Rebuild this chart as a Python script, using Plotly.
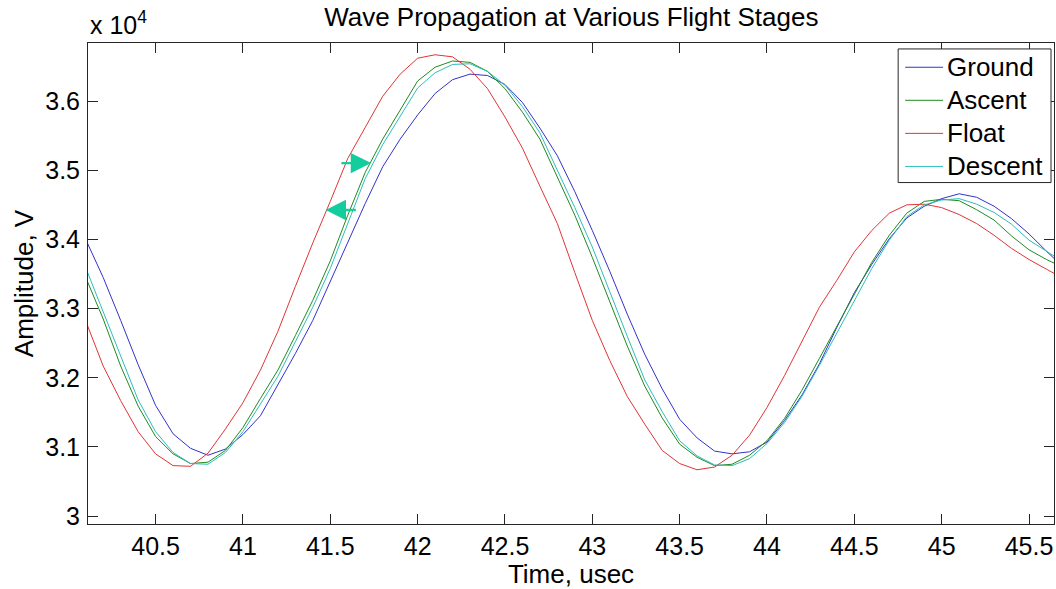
import plotly.graph_objects as go

# Sample times (microseconds), one sample every 0.1 us
time_us = [40.1, 40.2, 40.3, 40.4, 40.5, 40.6, 40.7, 40.8, 40.9, 41.0,
           41.1, 41.2, 41.3, 41.4, 41.5, 41.6, 41.7, 41.8, 41.9, 42.0,
           42.1, 42.2, 42.3, 42.4, 42.5, 42.6, 42.7, 42.8, 42.9, 43.0,
           43.1, 43.2, 43.3, 43.4, 43.5, 43.6, 43.7, 43.8, 43.9, 44.0,
           44.1, 44.2, 44.3, 44.4, 44.5, 44.6, 44.7, 44.8, 44.9, 45.0,
           45.1, 45.2, 45.3, 45.4, 45.5, 45.6, 45.7]

ground = [34000, 33450, 32830, 32190, 31600, 31190, 30980, 30880, 30970, 31180,
          31450, 31900, 32350, 32830, 33390, 33960, 34520, 35050, 35450, 35800,
          36110, 36310, 36390, 36370, 36240, 35980, 35610, 35210, 34690, 34130,
          33540, 32920, 32340, 31840, 31400, 31130, 30940, 30900, 30930, 31070,
          31380, 31750, 32200, 32730, 33230, 33640, 34010, 34310, 34480, 34590,
          34660, 34610, 34480, 34300, 34080, 33830, 33590]

ascent = [33450, 32850, 32170, 31590, 31150, 30900, 30760, 30780, 30950, 31280,
          31700, 32110, 32610, 33120, 33690, 34350, 34970, 35450, 35870, 36290,
          36490, 36580, 36560, 36430, 36180, 35840, 35450, 34890, 34350, 33740,
          33090, 32460, 31880, 31420, 31040, 30850, 30730, 30750, 30880, 31090,
          31410, 31820, 32280, 32740, 33210, 33670, 34060, 34380, 34550, 34580,
          34560, 34430, 34280, 34050, 33850, 33710, 33590]

float_stage = [32820, 32170, 31670, 31220, 30900, 30730, 30720, 30910, 31260, 31640,
               32110, 32670, 33320, 33950, 34550, 35170, 35620, 36070, 36390, 36620,
               36670, 36640, 36460, 36180, 35770, 35320, 34770, 34230, 33520, 32830,
               32250, 31730, 31330, 30950, 30760, 30670, 30710, 30880, 31170, 31570,
               32030, 32530, 33020, 33410, 33820, 34130, 34380, 34500, 34510, 34460,
               34360, 34230, 34060, 33870, 33710, 33570, 33430]

descent = [33590, 32960, 32330, 31680, 31220, 30920, 30760, 30750, 30920, 31220,
           31620, 32020, 32520, 33020, 33580, 34220, 34880, 35370, 35790, 36190,
           36410, 36530, 36540, 36430, 36230, 35920, 35540, 35000, 34460, 33890,
           33230, 32600, 31970, 31510, 31090, 30870, 30740, 30730, 30830, 31050,
           31350, 31730, 32180, 32650, 33130, 33580, 33990, 34330, 34500, 34570,
           34590, 34510, 34390, 34220, 33990, 33830, 33670]

series_names = ["Ground", "Ascent", "Float", "Descent"]
series_values = [ground, ascent, float_stage, descent]
series_colors = ["#3232CC", "#208A20", "#E03535", "#2DBDBD"]

x_tick_vals = [40.5, 41.0, 41.5, 42.0, 42.5, 43.0, 43.5, 44.0, 44.5, 45.0, 45.5]
x_tick_text = ["40.5", "41", "41.5", "42", "42.5", "43", "43.5", "44", "44.5", "45", "45.5"]
y_tick_vals = [30000, 31000, 32000, 33000, 34000, 35000, 36000]
y_tick_text = ["3", "3.1", "3.2", "3.3", "3.4", "3.5", "3.6"]

# Shift-direction arrows: (tail time, tip time, amplitude)
arrow_right = (41.555, 41.734, 35104)
arrow_left = (41.655, 41.473, 34426)
arrow_color = "#14CC9C"

FONT = "Arial, Liberation Sans, sans-serif"
AXIS_COLOR = "#262626"

# Plot-area geometry in pixels (used to place the boxed legend)
W, H = 1056, 589
M_L, M_R, M_T, M_B = 88, 1, 43, 60
PW, PH = W - M_L - M_R, H - M_T - M_B


def px_x(px):
    return (px - M_L) / PW


def px_y(py):
    return (H - M_B - py) / PH


fig = go.Figure()
for name, vals, col in zip(series_names, series_values, series_colors):
    fig.add_trace(go.Scatter(x=time_us, y=vals, mode="lines", name=name,
                             line=dict(color=col, width=1), showlegend=False))

for tail, tip, amp in (arrow_right, arrow_left):
    fig.add_annotation(x=tip, y=amp, ax=tail, ay=amp, xref="x", yref="y",
                       axref="x", ayref="y", text="", showarrow=True,
                       arrowhead=2, arrowsize=1.7, arrowwidth=2.4,
                       arrowcolor=arrow_color)

fig.add_annotation(x=0, y=1, xref="paper", yref="paper", xanchor="left",
                   yanchor="bottom", yshift=2, showarrow=False,
                   text="x 10<sup>4</sup>", font=dict(family=FONT, size=25, color="black"))

# Boxed legend in the upper-right corner of the axes
LEG_LEFT, LEG_RIGHT, LEG_TOP, LEG_BOTTOM = 899, 1052, 49, 184
ROW_Y0, ROW_STEP = 67.5, 33.4
fig.add_shape(type="rect", xref="paper", yref="paper",
              x0=px_x(LEG_LEFT), x1=px_x(LEG_RIGHT), y0=px_y(LEG_BOTTOM), y1=px_y(LEG_TOP),
              line=dict(color=AXIS_COLOR, width=1), fillcolor="white", layer="above")
for i, (name, col) in enumerate(zip(series_names, series_colors)):
    ry = ROW_Y0 + i * ROW_STEP
    fig.add_shape(type="line", xref="paper", yref="paper",
                  x0=px_x(906), x1=px_x(944), y0=px_y(ry), y1=px_y(ry),
                  line=dict(color=col, width=1), layer="above")
    fig.add_annotation(x=px_x(946), y=px_y(ry), xref="paper", yref="paper",
                       xanchor="left", yanchor="middle", showarrow=False, text=name,
                       font=dict(family=FONT, size=26, color="black"))

axis_common = dict(showline=True, linecolor=AXIS_COLOR, linewidth=1, mirror="ticks",
                   ticks="inside", ticklen=10, tickcolor=AXIS_COLOR, showgrid=False,
                   zeroline=False, tickfont=dict(family=FONT, size=25, color="black"))

fig.update_layout(
    width=W, height=H,
    margin=dict(l=M_L, r=M_R, t=M_T, b=M_B),
    paper_bgcolor="white", plot_bgcolor="white",
    font=dict(family=FONT, color="black"),
    title=dict(text="Wave Propagation at Various Flight Stages",
               x=0.541, xanchor="center", y=1 - 17 / 589, yanchor="middle",
               yref="container", font=dict(family=FONT, size=26, color="black")),
    xaxis=dict(range=[40.113, 45.643], tickvals=x_tick_vals, ticktext=x_tick_text,
               title=dict(text="Time, usec", standoff=10,
                          font=dict(family=FONT, size=26, color="black")),
               ticklabelstandoff=0, **axis_common),
    yaxis=dict(range=[29886, 36840], tickvals=y_tick_vals, ticktext=y_tick_text,
               title=dict(text="Amplitude, V", standoff=4,
                          font=dict(family=FONT, size=26, color="black")),
               ticklabelstandoff=2, **axis_common),
    showlegend=False,
)

fig.write_html("out.html")
